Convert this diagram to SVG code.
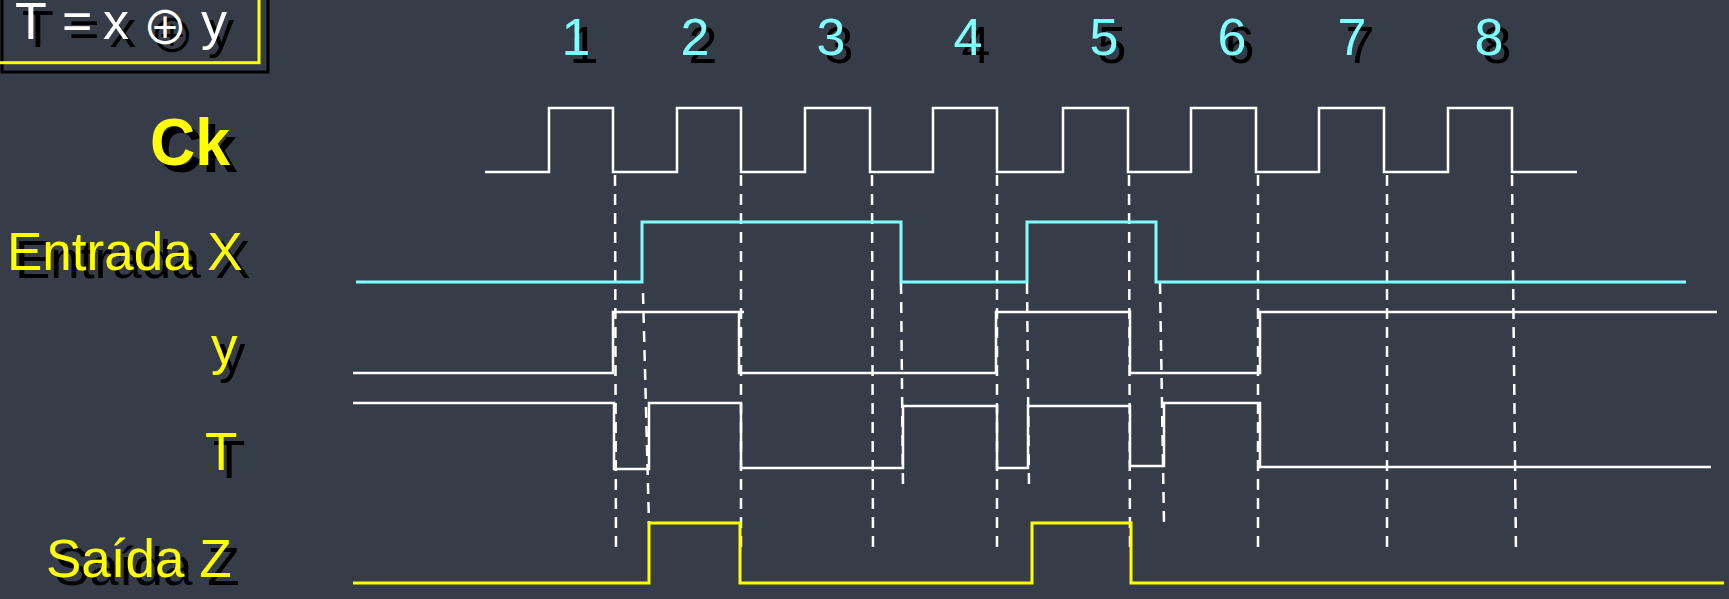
<svg xmlns="http://www.w3.org/2000/svg" xmlns:xlink="http://www.w3.org/1999/xlink" width="1729" height="599" viewBox="0 0 1729 599">
<style>
.lbl{font-family:"Liberation Sans",Arial,sans-serif;font-size:53px}
.num{font-family:"Liberation Sans",Arial,sans-serif;font-size:52px}
.ck{font-weight:bold;font-size:67px}
.sym{font-family:"Noto Sans CJK JP","DejaVu Sans",sans-serif;font-size:46px}
.sh{fill:#000}
.yl{fill:#FFFF00}
.cy{fill:#80FFFF}
.wh{fill:#FFFFFF}
.w{fill:none;stroke:#FFFFFF;stroke-width:2.5}
.x{fill:none;stroke:#80FFFF;stroke-width:3}
.z{fill:none;stroke:#FFFF00;stroke-width:3}
.d{fill:none;stroke:#FFFFFF;stroke-width:2.5;stroke-dasharray:11 8}
</style>
<defs>
<text id="tF" class="num" y="39"><tspan x="15">T</tspan> <tspan x="62">=</tspan><tspan x="103">x</tspan> <tspan x="142" y="43.5" class="sym">⊕</tspan> <tspan x="201" y="39">y</tspan></text>
<text id="tCk" class="lbl ck" x="150" y="165" textLength="80" lengthAdjust="spacingAndGlyphs">Ck</text>
<text id="tX" class="lbl" x="7" y="270">Entrada X</text>
<text id="tY" class="lbl" x="211" y="364">y</text>
<text id="tT" class="lbl" x="205" y="470">T</text>
<text id="tZ" class="lbl" x="46" y="577">Saída Z</text>
<text id="n1" class="num" x="576" y="55" text-anchor="middle">1</text>
<text id="n2" class="num" x="695" y="55" text-anchor="middle">2</text>
<text id="n3" class="num" x="831" y="55" text-anchor="middle">3</text>
<text id="n4" class="num" x="968" y="55" text-anchor="middle">4</text>
<text id="n5" class="num" x="1104" y="55" text-anchor="middle">5</text>
<text id="n6" class="num" x="1232" y="55" text-anchor="middle">6</text>
<text id="n7" class="num" x="1352" y="55" text-anchor="middle">7</text>
<text id="n8" class="num" x="1489" y="55" text-anchor="middle">8</text>
</defs>
<rect width="1729" height="599" fill="#373D48"/>

<g id="legend">
<rect x="2" y="-11" width="266" height="83" fill="none" stroke="#000" stroke-width="3"/>
<rect x="-7" y="-20" width="266" height="82.7" fill="none" stroke="#FFFF00" stroke-width="3"/>
<use xlink:href="#tF" class="sh" transform="translate(7,8)"/>
<use xlink:href="#tF" class="wh"/>
</g>

<g id="cycle-numbers">
<use xlink:href="#n1" class="sh" transform="translate(8,8)"/><use xlink:href="#n1" class="cy"/>
<use xlink:href="#n2" class="sh" transform="translate(8,8)"/><use xlink:href="#n2" class="cy"/>
<use xlink:href="#n3" class="sh" transform="translate(8,8)"/><use xlink:href="#n3" class="cy"/>
<use xlink:href="#n4" class="sh" transform="translate(8,8)"/><use xlink:href="#n4" class="cy"/>
<use xlink:href="#n5" class="sh" transform="translate(8,8)"/><use xlink:href="#n5" class="cy"/>
<use xlink:href="#n6" class="sh" transform="translate(8,8)"/><use xlink:href="#n6" class="cy"/>
<use xlink:href="#n7" class="sh" transform="translate(8,8)"/><use xlink:href="#n7" class="cy"/>
<use xlink:href="#n8" class="sh" transform="translate(8,8)"/><use xlink:href="#n8" class="cy"/>
</g>

<g id="labels">
<use xlink:href="#tCk" class="sh" transform="translate(7,7)"/><use xlink:href="#tCk" class="yl"/>
<use xlink:href="#tX" class="sh" transform="translate(8,8)"/><use xlink:href="#tX" class="yl"/>
<use xlink:href="#tY" class="sh" transform="translate(8,8)"/><use xlink:href="#tY" class="yl"/>
<use xlink:href="#tT" class="sh" transform="translate(8,8)"/><use xlink:href="#tT" class="yl"/>
<use xlink:href="#tZ" class="sh" transform="translate(8,8)"/><use xlink:href="#tZ" class="yl"/>
</g>

<g id="connectors">
<line class="d" x1="615" y1="175" x2="616" y2="553"/>
<line class="d" x1="741" y1="175" x2="741" y2="553"/>
<line class="d" x1="872" y1="175" x2="873" y2="553"/>
<line class="d" x1="997" y1="175" x2="997" y2="553"/>
<line class="d" x1="1129" y1="175" x2="1130" y2="553"/>
<line class="d" x1="1258" y1="175" x2="1258" y2="553"/>
<line class="d" x1="1387" y1="175" x2="1387" y2="553"/>
<line class="d" x1="1512" y1="175" x2="1516" y2="553"/>
<line class="d" x1="643" y1="293" x2="649" y2="524"/>
<line class="d" x1="901" y1="283" x2="903" y2="488"/>
<line class="d" x1="1027" y1="283" x2="1029" y2="488"/>
<line class="d" x1="1160" y1="283" x2="1164" y2="523"/>
</g>

<g id="sig-ck">
<path class="w" d="M485,172 H549 V108 H613 V172 H677 V108 H741 V172 H805 V108 H870 V172 H933 V108 H997 V172 H1063 V108 H1128 V172 H1191 V108 H1256 V172 H1319 V108 H1384 V172 H1448 V108 H1512 V172 H1577"/>
</g>
<g id="sig-x">
<path class="x" d="M356,282 H642 V222 H901 V282 H1027 V222 H1156 V282 H1686"/>
</g>
<g id="sig-y">
<path class="w" d="M353,373 H613 V312 H744 M739,312 V373 H996 V312 H1130 V373 H1260 V312 H1717"/>
</g>
<g id="sig-t">
<path class="w" d="M353,403 H614 V469 H649 V403 H741 V468 H903 V406 H997 V468 H1028 V406 H1130 V466 H1164 V403 H1260 V467 H1711"/>
</g>
<g id="sig-z">
<path class="z" d="M353,583 H649 V523 H740 V583 H1032 V523 H1131 V583 H1724"/>
</g>
</svg>
